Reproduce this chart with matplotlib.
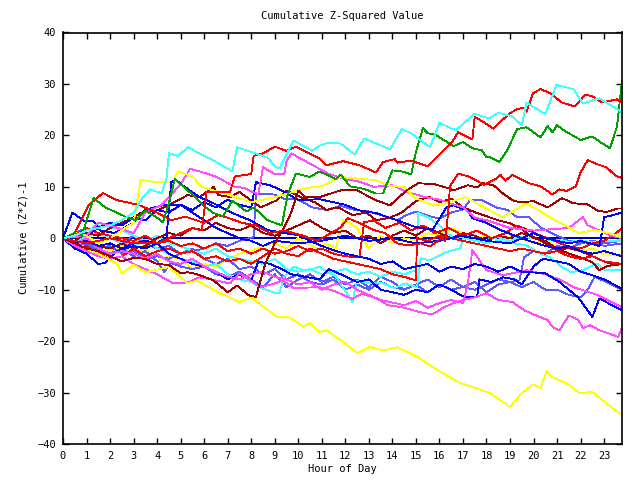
import matplotlib
matplotlib.use("Agg")
import matplotlib.pyplot as plt

# ---- data (hour of day, cumulative (Z*Z)-1) ----
cyan_top_h = [0, 0.5, 1, 1.5, 2, 2.5, 3, 3.4, 3.7, 4.0, 4.2, 4.4, 4.5, 4.9, 5.3, 6.6, 7.2, 7.4, 8.7, 9.0, 9.2, 9.8,
              10.6, 10.9, 11.3, 11.8, 12.4, 12.8, 13.9, 14.4, 14.8, 15.6, 16.0, 16.7, 17.5, 18.1, 18.5, 19.1, 19.5,
              19.7, 20.5, 20.97, 21.7, 22.1, 22.8, 23.3, 23.76]
cyan_top_v = [0, 0.5, 1.5, 2, 2.5, 3.5, 5, 8, 9.5, 9, 8.8, 11.7, 16.5, 16, 17.7, 14.6, 13, 17.7, 15.7, 14, 13.6, 19,
              17, 18, 18.6, 18.4, 16.3, 19.4, 17.3, 21.2, 20.4, 17.7, 22.4, 21, 24.2, 23.3, 24.4, 23.7, 22.0,
              26.4, 24.1, 29.8, 29.0, 26.2, 27.2, 25.8, 24.5]

red_top_h = [0, 1, 2, 3, 4, 5, 5.5, 5.9, 6.1, 7.1, 7.3, 8.0, 8.1, 8.5, 9.0, 9.5, 9.9, 10.9, 11.2, 11.9, 12.6, 13.3,
             13.6, 14.1, 14.2, 14.8, 15.5, 15.9, 16.5, 16.8, 17.4, 17.5, 17.9, 18.3, 18.7, 19.0, 19.3, 19.6, 19.7,
             19.98, 20.3, 20.7, 21.2, 21.75, 22.2, 22.5, 22.9, 23.55, 23.76]
red_top_v = [0, -1, 0, -1, -1, 1, 2, 1.5, 9, 9, 12, 12.5, 16, 16.5, 17.8, 17, 17.8, 15.5, 14.2, 15, 14.2, 12.8,
             14.8, 15.4, 14.7, 15.1, 14.0, 15.8, 18.5, 20.6, 19.2, 23.6, 22.5, 21.3, 23.1, 24.3, 25.1, 25.4, 24.6,
             28.2, 29, 28.2, 26.4, 25.6, 27.9, 27.6, 26.4, 27.0, 26.4]

green_h = [0, 0.5, 0.8, 1.3, 1.8, 2.7, 3.1, 3.5, 4.0, 4.25, 4.5, 4.75, 5.5, 5.95, 6.4, 6.8, 7.2, 7.8, 8.1, 8.7,
           9.3, 9.55, 9.9, 10.5, 10.9, 11.6, 11.8, 12.2, 12.8, 13.3, 13.6, 14.0, 14.4, 14.8, 15.0, 15.3, 15.5,
           15.8, 16.15, 16.6, 17.0, 17.4, 17.8, 18.0, 18.1, 18.55, 18.9, 19.3, 19.7, 20.3, 20.6, 20.8, 21.0,
           21.35, 22.0, 22.5, 22.9, 23.25, 23.55, 23.76]
green_v = [0, 1, 0.5, 7.8, 6, 4.1, 3.5, 5.4, 4, 3.1, 6.8, 11.5, 8.5, 6.4, 4.9, 4.3, 7.3, 5.2, 6.0, 3.5,
           2.5, 8.5, 12.6, 11.9, 13, 11.5, 12.4, 10.1, 9.6, 8.7, 8.7, 13.2, 13.0, 12.4, 16.8, 21.4, 20.4,
           20.2, 19.2, 17.9, 18.7, 17.5, 17.1, 15.7, 15.9, 14.8, 17.3, 21.2, 21.6, 19.6, 21.8, 20.6, 22,
           20.8, 19.1, 19.8, 18.5, 17.5, 21.8, 30.6]

red_d_h = [0, 0.5, 1.1, 1.7, 2.3, 3.2, 4.0, 4.6, 5.2, 6.0, 6.6, 7.0, 7.6, 8.2, 8.8, 9.4, 10.2, 10.8, 11.4, 11.8,
           12.1, 12.6, 13.2, 13.7, 14.2, 14.7, 15.2, 15.6, 16.1, 16.25, 16.35, 16.45, 16.8, 17.3, 17.9, 18.45,
           18.6, 18.8, 19.1, 19.8, 20.3, 20.8, 21.1, 21.4, 21.8, 22.0, 22.3, 22.7, 23.1, 23.5, 23.76]
red_d_v = [0, 1, 6.5, 8.8, 7.4, 6.5, 5, 3.5, 4.2, 3, 4.5, 4, 3, 2.5, 1, 1.5, 0.5, -0.5, 1, 2.1,
           3.9, 3, 1.6, 1, -1, -1.4, -1, -1.6, 0, -0.5, 4.1, 10.1, 12.6, 11.9, 10.4, 11.7,
           12.3, 11.2, 12.3, 10.7, 10.1, 8.5, 9.5, 9.2, 10.1, 12.8, 15.2, 14.4, 13.8, 12.1, 11.7]

darkred_e_h = [0, 0.5, 1.0, 1.5, 2.0, 2.5, 3.0, 3.5, 4.0, 4.5, 5.0, 5.3, 5.7, 6.0, 6.4, 7.0, 7.4, 7.9, 8.2, 8.6,
               9.0, 9.4, 9.7, 10.0, 10.3, 10.9, 11.8, 12.5, 13.3, 13.9, 14.6, 15.1, 15.8, 16.4, 16.6, 17.2,
               17.6, 17.85, 18.3, 18.7, 19.1, 19.4, 20.0, 20.6, 21.2, 21.7, 22.3, 22.7, 23.1, 23.6, 23.76]
darkred_e_v = [0, -1, -2, -2.5, -3.5, -4.5, -3.8, -4, -5, -5.2, -6.8, -6.6, -7.0, -7.5, -8.2, -10.5, -9.2, -11.1,
               -11.4, -4.9, -1.0, 2.1, 5, 9.3, 8, 8.0, 9.3, 9.3, 7.4, 6.4, 9.3, 10.7, 10.5, 9.7, 9.3, 10.3,
               9.9, 10.7, 10.3, 8.7, 7.4, 7.0, 7.2, 6.0, 7.8, 6.8, 6.6, 5.4, 5.1, 5.8, 5.8]

blue_jump_h = [0, 0.5, 1, 1.5, 2, 2.5, 3, 3.5, 4, 4.4, 4.6, 4.8, 5.2, 5.8, 6.4, 7.2, 7.95, 8.7, 9.4, 10, 10.5, 11,
               11.6, 12, 12.5, 13, 13.5, 14, 14.5, 15, 15.5, 16, 16.5, 17, 17.5, 18, 18.5, 19, 19.5, 20.5, 21.1,
               21.9, 22.5, 22.8, 23.25, 23.76]
blue_jump_v = [0, -1, -0.5, -1.5, -1, -2, -1, -0.5, -1, 0.2, 10.9, 11.3, 9.9, 8.0, 6.8, 4.9, 3.5, 1.6, 1, 0.6, -0.5,
               -1.5, -2.5, -3, -3.5, -4, -5, -4.5, -6, -5.5, -5, -6.5, -5.5, -6, -5, -5.5, -6.5, -5.5, -6.5, -6.8,
               -8.5, -11.5, -15.3, -11.7, -12.8, -14]

yellow_low_h = [0, 1, 1.5, 2.3, 2.5, 3.0, 3.5, 4.5, 5.3, 5.7, 6.4, 7.5, 8.0, 9.1, 9.65, 10.2, 10.5, 10.9, 11.2,
                11.8, 12.5, 13.05, 13.6, 14.2, 15.0, 15.9, 16.9, 17.6, 18.15, 19.0, 19.5, 20.0, 20.3, 20.55, 20.8,
                21.4, 21.95, 22.5, 23.1, 23.76]
yellow_low_v = [0, -2, -3, -5, -6.8, -5.2, -6.6, -5.6, -8.8, -8.2, -10.1, -12.4, -11.5, -15.3, -15.4, -17.2, -16.5,
                -18.2, -17.9, -19.8, -22.3, -21.1, -21.8, -21.2, -22.9, -25.6, -28.2, -29.2, -30.1, -32.8, -30.1,
                -28.4, -29.2, -25.8, -27.0, -28.2, -30.1, -29.9, -32.1, -34.4]

magenta_low_h = [0, 0.5, 1, 1.5, 2, 2.5, 3, 3.5, 4, 4.7, 5.3, 5.8, 6.5, 7.1, 7.5, 8.4, 9.0, 9.35, 9.8, 10.9, 11.5,
                 12.3, 12.7, 13.3, 13.8, 14.5, 15.2, 15.7, 16.2, 16.6, 17.0, 17.5, 18.0, 18.5, 19.1, 19.6, 20.0,
                 20.6, 20.8, 21.1, 21.5, 21.9, 22.1, 22.4, 22.8, 23.2, 23.6, 23.76]
magenta_low_v = [0, -1.5, -2.5, -3.5, -4, -3.5, -5, -6, -7, -8.8, -8.6, -7.6, -8.2, -8.8, -6.8, -9.5, -8.8, -8.2,
                 -9.7, -9.5, -10.2, -11.8, -10.8, -11.6, -13, -13.5, -14.4, -14.8, -13.4, -12.6, -12, -11.5,
                 -10.7, -12, -12.4, -14, -14.8, -15.9, -17.2, -17.9, -15, -15.9, -17.5, -16.9, -17.9, -18.5,
                 -19.2, -17.3]

magenta_mid_h = [0, 0.5, 1, 1.5, 2, 2.5, 3, 3.5, 4, 4.5, 5, 5.5, 6, 6.5, 7, 7.5, 8, 8.5, 9, 9.5, 10, 10.5, 11,
                 11.5, 12, 12.5, 13, 13.5, 14, 14.5, 15, 15.5, 16, 16.5, 17, 17.2, 17.4, 18.0, 18.7, 19.7, 20.5,
                 21.2, 21.7, 22.3, 22.7, 23.4, 23.76]
magenta_mid_v = [0, -1, 0, -2, -3, -2.5, -3, -4, -3, -4.5, -5, -4, -5.5, -6.5, -7.5, -8, -7, -6.5, -7.5, -8, -9,
                 -8.5, -10, -9, -8.5, -10, -11, -12, -12.5, -13, -12.2, -13.5, -12.6, -12, -12.6, -9, -2.3, -6.2,
                 -7.2, -6.2, -7, -8.2, -9.5, -10.4, -11, -12.6, -13.4]

magenta_high_h = [0, 1, 1.5, 2, 3, 3.5, 4.2, 4.5, 5.0, 5.4, 5.8, 6.5, 7.3, 7.7, 8.3, 8.5, 9.0, 9.4, 9.5, 9.7, 10.5,
                  11.3, 12, 12.6, 13.2, 14, 14.6, 15.4, 16, 17, 17.5, 18, 19, 20, 21.5, 22.1, 22.3, 22.8, 23.3,
                  23.76]
magenta_high_v = [0, 0.5, 3, 2.5, 1, 5, 6.5, 8, 10.5, 13.5, 13, 12, 10, 9.8, 8.5, 13.8, 12.5, 12.4, 15, 16.5, 14.5,
                  12.5, 11.5, 11, 10, 10.3, 9, 8, 7.5, 6, 4, 3.5, 2, 1.5, 2, 4.1, 2.5, 1.5, 0.5, 0]

yellow_high_h = [0, 0.5, 1, 1.5, 2, 2.5, 3.0, 3.3, 3.8, 4.6, 4.9, 5.5, 5.9, 7, 8, 9, 10.4, 11.0, 11.8, 13.3, 13.8,
                 14.5, 14.9, 15.5, 15.8, 16.3, 17.1, 17.9, 18.7, 19.7, 20.4, 20.9, 21.5, 21.9, 22.6, 23.2, 23.76]
yellow_high_v = [0, 1, 0.5, -1, 0, 1.5, 3, 11.4, 11, 10.8, 13, 12, 10, 8.5, 7, 8, 9.8, 10.1, 11.9, 11.3, 10.3,
                 9.9, 8, 6.8, 6.4, 6.8, 8, 6, 4.1, 6.8, 4.9, 3.5, 2.1, 1, 1.6, 1, 0.2]

yellow_mid_h = [0, 0.5, 1, 1.5, 2, 2.5, 3, 3.5, 4, 4.5, 5, 5.5, 6, 6.5, 7, 7.5, 8, 8.5, 9, 9.5, 10, 10.4, 10.8,
                11.2, 11.6, 11.9, 12.2, 12.5, 13, 13.5, 14, 14.5, 15, 15.5, 16, 16.5, 17, 17.5, 18, 18.5, 19, 19.5,
                20, 20.5, 21, 21.5, 22, 22.5, 23, 23.76]
yellow_mid_v = [0, -1, -2, -1, -2.5, -1.5, -3, -2, -4.5, -3.5, -4, -6, -5, -5.5, -4, -3, -2.5, -1.5, -1, -2, 0, -1,
                -2, -1, -2, 3.5, 3, 2, -2, 0.5, -1, 0, -0.5, 1, 0.5, 2, 1, 0, 0.5, -0.5, 0.5, 0, -1, -0.5, -1.5,
                -2, -2.5, -2, -3, -3.5]

blue_a_h = [0, 0.4, 0.9, 1.3, 1.6, 2.2, 3, 3.5, 4.3, 5, 5.5, 6, 6.5, 7, 7.5, 8, 8.5, 9, 10, 11, 12, 13, 14, 15,
            16, 17, 18, 19, 19.5, 20, 20.5, 21, 21.5, 22, 22.8, 22.9, 23.0, 23.3, 23.76]
blue_a_v = [0, 5, 3.3, 3.3, 1.5, 1, 3, 5.5, 6.5, 6.5, 5, 3.5, 2, 1, 0, -0.5, -1.5, -0.5, -1, -0.5, 0.5, -0.5, 0, -1,
            -0.5, 0.5, -0.5, -1, 0, 1, 0, -0.5, -1, -0.5, -1.5, 1, 4.1, 4.4, 5]

blue_c_h = [0, 0.5, 1, 1.5, 1.8, 2.3, 3, 3.5, 4, 4.5, 5, 5.5, 6, 6.5, 7, 7.5, 8, 8.3, 8.8, 9.3, 9.7, 10.3, 10.9,
            11.3, 11.8, 12.5, 13, 13.5, 14, 14.5, 15, 15.5, 16, 16.5, 17, 17.6, 17.7, 18.2, 18.7, 19.2, 19.5, 20,
            20.4, 21, 21.5, 22, 22.5, 23, 23.76]
blue_c_v = [0, -2, -3, -5, -4.8, -2.5, -1.5, -2, -1, -3, -4, -5, -5.5, -6.5, -8, -7, -8.2, -4.5, -5, -6, -7, -7.5,
            -8, -6, -7, -8.5, -8, -10, -10.5, -11, -10, -10.5, -9, -10, -11.3, -11.5, -8, -8.5, -7.6, -8, -9, -5.5,
            -4, -4.5, -5, -6.5, -7.2, -8, -9.8]

blue_d_h = [0, 0.5, 1, 1.5, 2, 2.5, 3, 3.5, 4, 4.5, 5, 5.5, 6, 6.5, 7, 7.5, 8.0, 8.2, 8.8, 9.3, 10, 10.9, 11.5,
            12, 12.6, 13.3, 14.2, 14.9, 15.7, 16.3, 16.6, 17.2, 17.4, 18, 18.6, 19.2, 19.8, 20.5, 21, 21.5, 22,
            22.5, 23, 23.76]
blue_d_v = [0, 1, 0.5, 2, 3, 2.5, 4, 3.5, 5.5, 5, 6.5, 5.5, 7, 6, 7.5, 6.5, 6, 10.9, 10.3, 9.3, 7.4, 7.6, 7,
            6.5, 5.4, 4.9, 3.5, 2.3, 1.6, 6, 6.4, 5.4, 3.9, 3, 1.6, 0.5, -0.5, -1.5, -2, -1.5, -2.5,
            -3, -2.5, -3.5]

cyan_a_h = [0, 0.5, 1, 1.5, 2, 2.5, 3, 3.5, 4, 4.5, 5, 5.5, 6, 6.5, 7, 7.5, 8, 8.5, 9, 9.2, 9.4, 9.8, 10.3, 10.9,
            11.6, 12.3, 12.5, 13.1, 13.5, 14.1, 14.5, 15.05, 15.2, 15.6, 16.3, 16.9, 17.0, 17.5, 18, 18.5, 19.2,
            19.7, 20.3, 20.7, 21.2, 21.6, 22.1, 22.7, 23.0, 23.76]
cyan_a_v = [0, -0.5, 0.3, 1, 0, -1, -1.5, -0.5, -2, -3, -4, -4.5, -5.5, -5, -7, -8, -8.5, -9.8, -10.6, -10.6, -7.5,
            -5.5, -6.3, -5.6, -7.4, -12.4, -8.2, -8.8, -8.6, -9.7, -8.8, -9.5, -3.9, -4.3, -2.7, -1.9, 0, -0.5, -1,
            -0.5, -1, -1.4, -3, -3.7, -5.6, -6.6, -6.2, -4.9, -6.2, -6.2]

cyan_b_h = [0, 0.5, 1, 1.5, 2, 2.5, 3, 3.5, 4, 4.5, 5, 5.5, 6, 6.5, 7, 7.5, 8, 8.5, 9, 9.5, 10, 10.5, 11, 11.5, 12,
            12.5, 13, 13.5, 14, 14.5, 15.0, 15.1, 15.5, 16, 16.3, 16.7, 17.2, 17.8, 18.5, 19, 19.5, 20, 20.5, 21,
            21.5, 22, 22.5, 23, 23.76]
cyan_b_v = [0, 0.5, 1.5, 2.5, 2.2, 1.5, 0.5, -0.5, 0.5, -1, -1.5, -2.5, -3, -2, -3.5, -4, -4.5, -5, -4, -6, -6.5,
            -6, -7, -6.5, -6, -7, -6.5, -7.5, -6.5, -7, -6.2, 4.9, 4.1, 2.5, 1, 0, 0.5, -0.5, 0.2, -0.5, 0.3, 0,
            -0.5, -0.3, -0.7, -0.4, -0.8, -0.5, -0.5]

red_low_h = [0, 0.5, 1, 1.5, 2, 2.5, 3, 3.5, 4, 4.5, 5, 5.5, 6, 6.5, 7, 7.5, 8, 8.5, 9, 9.5, 10, 10.5, 11, 11.5,
             12, 12.5, 13, 13.5, 14, 14.5, 15.0, 15.05, 15.5, 16, 16.5, 17, 17.5, 18, 18.5, 19, 19.5, 20, 20.5,
             21, 21.5, 22, 22.5, 23, 23.76]
red_low_v = [0, -2, -1.5, -3, -4, -3.5, -2, -3.5, -2.5, -2, -3, -2.5, -4, -3.5, -4.5, -4, -5, -3.5, -2, -3, -3.5,
             -2, -3, -4, -4.5, -5, -5.5, -6, -7, -7.5, -8.2, 0, -0.5, 0.5, 0, -0.5, -1, -1.5, -2, -2.5, -2, -2.5,
             -3, -2.5, -3.5, -4, -3.5, -4.5, -5]

red_mid_h = [0, 0.5, 1, 1.5, 2, 2.5, 3, 3.5, 4, 4.5, 5, 5.5, 6, 6.5, 7, 7.5, 8, 8.5, 9, 9.5, 10, 10.5, 11, 11.5,
             12, 12.6, 12.8, 13.2, 13.7, 14.3, 14.8, 15.3, 15.8, 16.4, 17, 17.6, 18.2, 18.8, 19.3, 19.8, 20.3,
             20.9, 21.4, 22, 22.5, 23, 23.5, 23.76]
red_mid_v = [0, 0.5, 2, 1, 0.5, 0, -0.5, 0.5, -1, -0.5, -1.5, -1, -2, -1, -2.5, -2, -3, -2, -3, -2.5, -1.5, -2.5,
             -2, -3, -3.5, -3.7, 3.1, 3.5, 2, 3, 1.5, 2.5, 1, 2, 0.5, 1.5, 0, 1, 2.5, 1.5, 0.5, -0.5, -1.5, -2,
             -1, -0.5, 1, 1.9]

darkred_b_h = [0, 0.5, 1, 1.5, 2, 2.5, 3, 3.3, 4.0, 4.9, 5.3, 5.8, 6.4, 6.6, 7.1, 7.5, 8.4, 9.1, 9.5, 10.1, 10.7,
               11.2, 11.7, 12.3, 12.9, 13.3, 13.9, 14.4, 14.8, 15.1, 15.6, 16, 16.5, 17, 17.6, 18.5, 19, 19.4, 20,
               20.5, 21, 21.5, 22, 22.5, 22.8, 23.1, 23.5, 23.76]
darkred_b_v = [0, -0.5, 1, 0.5, 2, 3, 4, 4.9, 5.4, 7.4, 8.4, 8, 10, 8.4, 8, 9, 6, 7.4, 9.3, 8, 7, 5.5, 6, 4.5, 5,
               3.5, 4, 5, 6.5, 7.5, 8, 7, 7.7, 6, 4.9, 3.5, 2.9, 2.1, 0, -0.5, -2, -3, -3.7, -4.7, -6.2, -5.5,
               -5, -4.9]

darkred_c_h = [0, 0.5, 1, 1.5, 2, 2.5, 3, 3.5, 4, 4.5, 5, 5.5, 6, 6.5, 7, 7.5, 8, 8.5, 9, 9.5, 10, 10.5, 11, 11.5,
               12, 12.5, 13, 13.5, 14, 14.5, 15, 15.5, 16, 16.5, 17, 17.5, 18, 18.5, 19, 19.5, 20, 20.5, 21, 21.5,
               22, 22.5, 23, 23.5, 23.76]
darkred_c_v = [0, -1, -0.5, -1.5, -2, -1, -2, -1.5, 0, 1, 0.5, 2, 1.5, 3, 2, 1.5, 2.5, 1, 0.5, 1.5, 2.5, 3.5, 2, 1,
               1.5, 0, 0.5, -1, 0.5, 1.5, 0.5, 2, 1, 0, 1, 0.5, -0.5, 0.5, 0, 1, 0.3, -1, -2.3, -1.9, -2.5, -3.5,
               -4.5, -5.2, -5]

lblue_a_h = [0, 0.5, 1, 1.5, 2, 2.5, 3, 3.5, 4, 4.5, 5, 5.5, 6, 6.5, 7, 7.5, 8.1, 8.2, 9.0, 9.4, 10.0, 10.6, 11.2,
             11.8, 12.4, 13, 13.6, 14.2, 14.6, 15, 15.5, 16, 16.5, 17.0, 17.3, 17.8, 18.4, 18.9, 19.3, 19.8, 20.3,
             21.0, 21.5, 22, 22.5, 23, 23.76]
lblue_a_v = [0, -1, -0.5, -2, -1.5, -3, -2.5, -4, -3.5, -4, -3, -2.5, -2, -1, -1.5, -0.5, 0.2, 8.7, 8.5, 7.7, 7.5,
             6, 5.5, 6.3, 5.5, 5.2, 4.4, 3.5, 4.5, 5.2, 4.4, 3.8, 5, 5.6, 7.4, 7.4, 6, 5.5, 4.1, 4.1, 2.1, 0.5,
             -0.5, -1, -0.5, -1.5, -1]

lblue_b_h = [0, 0.5, 1, 1.5, 2, 2.5, 3, 3.5, 4, 4.3, 4.6, 5, 5.5, 6, 6.5, 7, 7.5, 8, 8.5, 9, 9.5, 10, 10.5, 11,
             11.5, 12, 12.5, 13, 13.5, 14, 14.5, 15, 15.5, 16, 16.5, 17, 17.5, 18, 18.5, 19, 19.5, 20, 20.5, 21,
             21.5, 22, 22.3, 22.6, 23.1, 23.76]
lblue_b_v = [0, -1.5, -1, -2.5, -3, -2, -3.5, -2.5, -4.5, -6.5, -4.8, -5.5, -6, -5.5, -7, -7.5, -6.5, -8, -9.5, -7,
             -9.5, -8, -7, -8.5, -7.5, -9, -8, -9.5, -7.5, -8.5, -10, -9, -8, -9.5, -8, -9.5, -8.5, -10.5, -9,
             -8.5, -9.5, -8.5, -10, -10, -11, -11.5, -10, -7.5, -8.5, -10]

lblue_c_h = [0, 0.5, 1, 1.5, 2, 2.5, 3, 3.5, 4, 4.5, 5, 5.5, 6, 6.5, 7, 7.5, 8, 8.5, 9, 9.5, 10, 10.5, 11, 11.5,
             12, 12.5, 13, 13.5, 14, 14.5, 15, 15.5, 16, 16.5, 17, 17.5, 18, 18.5, 19, 19.4, 19.6, 20, 20.5, 21,
             21.5, 22, 22.5, 23, 23.76]
lblue_c_v = [0, 1, 2, 1, 0, -1, 0.5, -1, -2, -1.5, -3, -2, -4, -5, -4, -6, -5.5, -7, -6, -8, -7, -8.5, -9, -8,
             -10, -9, -10, -8.5, -9.5, -10, -9, -10.5, -9, -10, -9.5, -10, -9, -8, -8.5, -8.2, -3.7, -2.5, -3,
             -1.5, -2, -1, -0.5, -1, -0.5]

zero_h = [0, 23.76]
zero_v = [0, 0]

# (hours, values, colour) in drawing order
series = [
    (zero_h, zero_v, '#0000b0'),
    (yellow_mid_h, yellow_mid_v, '#ffff00'),
    (lblue_c_h, lblue_c_v, '#5a5aff'),
    (lblue_b_h, lblue_b_v, '#5a5aff'),
    (lblue_a_h, lblue_a_v, '#5a5aff'),
    (cyan_b_h, cyan_b_v, '#40ffff'),
    (cyan_a_h, cyan_a_v, '#40ffff'),
    (darkred_c_h, darkred_c_v, '#a00000'),
    (darkred_b_h, darkred_b_v, '#a00000'),
    (red_mid_h, red_mid_v, '#ff0000'),
    (red_low_h, red_low_v, '#ff0000'),
    (blue_d_h, blue_d_v, '#0000ff'),
    (blue_c_h, blue_c_v, '#0000ff'),
    (blue_a_h, blue_a_v, '#0000ff'),
    (magenta_mid_h, magenta_mid_v, '#ff4cff'),
    (magenta_high_h, magenta_high_v, '#ff4cff'),
    (magenta_low_h, magenta_low_v, '#ff4cff'),
    (yellow_high_h, yellow_high_v, '#ffff00'),
    (yellow_low_h, yellow_low_v, '#ffff00'),
    (blue_jump_h, blue_jump_v, '#0000ff'),
    (darkred_e_h, darkred_e_v, '#a00000'),
    (red_d_h, red_d_v, '#ff0000'),
    (green_h, green_v, '#00a000'),
    (red_top_h, red_top_v, '#ff0000'),
    (cyan_top_h, cyan_top_v, '#40ffff'),
]

hour_ticks = list(range(0, 24))
value_ticks = [-40, -30, -20, -10, 0, 10, 20, 30, 40]

plt.rcParams["font.family"] = "monospace"
plt.rcParams["font.monospace"] = ["DejaVu Sans Mono"]

fig = plt.figure(figsize=(6.4, 4.8), dpi=100)
ax = fig.add_axes([63 / 640, 36 / 480, 559 / 640, 411.5 / 480])

for hrs, vals, col in series:
    # the flat reference line at zero is drawn a bit heavier
    lw = 1.3 if col == '#0000b0' else 0.6
    ax.plot(hrs, vals, color=col, lw=lw, antialiased=False)

ax.set_xlim(0, 23.76)
ax.set_ylim(-40, 40)
ax.set_xticks(hour_ticks)
ax.set_yticks(value_ticks)
ax.tick_params(direction='in', length=4, width=1, labelsize=7.5, top=True, right=True, pad=5)
for sp in ax.spines.values():
    sp.set_linewidth(1.2)

ax.set_title("Cumulative Z-Squared Value", fontsize=7.5, pad=10)
ax.set_xlabel("Hour of Day", fontsize=7.5, labelpad=2)
ax.set_ylabel("Cumulative (Z*Z)-1", fontsize=7.5, labelpad=6)

fig.savefig("out.png", dpi=100)
